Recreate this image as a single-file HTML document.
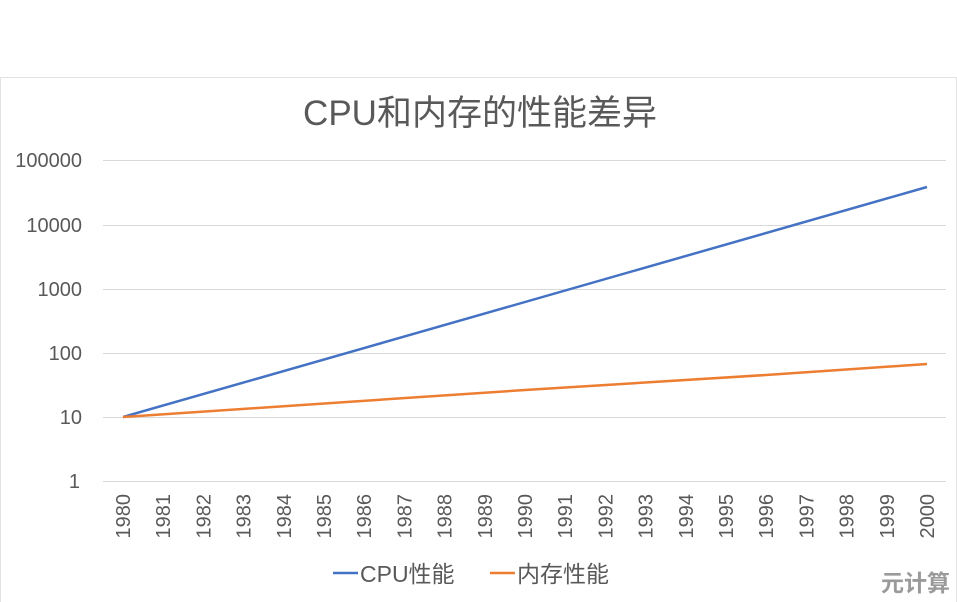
<!DOCTYPE html>
<html><head><meta charset="utf-8"><style>
body{margin:0;background:#fff;}
svg{display:block;font-family:"Liberation Sans","Noto Sans CJK SC",sans-serif;}
</style></head><body>
<svg width="957" height="602" viewBox="0 0 957 602" xmlns="http://www.w3.org/2000/svg">
<rect x="0.5" y="77.5" width="956" height="530" fill="#fff" stroke="#e3e3e3"/>
<text x="480" y="125" text-anchor="middle" font-size="35" fill="#595959">CPU和内存的性能差异</text>
<g stroke="#d9d9d9" stroke-width="1">
<line x1="103" x2="946" y1="160.5" y2="160.5"/>
<line x1="103" x2="946" y1="225.5" y2="225.5"/>
<line x1="103" x2="946" y1="289.5" y2="289.5"/>
<line x1="103" x2="946" y1="353.5" y2="353.5"/>
<line x1="103" x2="946" y1="417.5" y2="417.5"/>
<line x1="103" x2="946" y1="481.5" y2="481.5"/>
</g>
<g font-size="20" fill="#595959" text-anchor="end">
<text x="82" y="167">100000</text>
<text x="82" y="232">10000</text>
<text x="82" y="296">1000</text>
<text x="82" y="360">100</text>
<text x="82" y="424">10</text>
<text x="80" y="488">1</text>
</g>
<g font-size="20" fill="#595959" text-anchor="end" id="xl"></g>
<polyline fill="none" stroke="#4472c4" stroke-width="2.5" points="123,417 927,187"/>
<polyline fill="none" stroke="#ed7d31" stroke-width="2.5" points="123,417 525,390 766,375 927,364"/>
<line x1="333" x2="358" y1="573" y2="573" stroke="#4472c4" stroke-width="2.5"/>
<text x="360" y="582" font-size="23" fill="#595959">CPU性能</text>
<line x1="490" x2="515" y1="573" y2="573" stroke="#ed7d31" stroke-width="2.5"/>
<text x="517" y="582" font-size="23" fill="#595959">内存性能</text>
<text x="950" y="591" font-size="23" font-weight="bold" fill="#9a9a9a" text-anchor="end">元计算</text>
<script>
var g=document.getElementById('xl');
for(var i=0;i<=20;i++){var x=123+i*40.2;var t=document.createElementNS('http://www.w3.org/2000/svg','text');
t.setAttribute('transform','translate('+(x+7)+',494) rotate(-90)');t.textContent=1980+i;g.appendChild(t);}
</script>
</svg>
</body></html>
